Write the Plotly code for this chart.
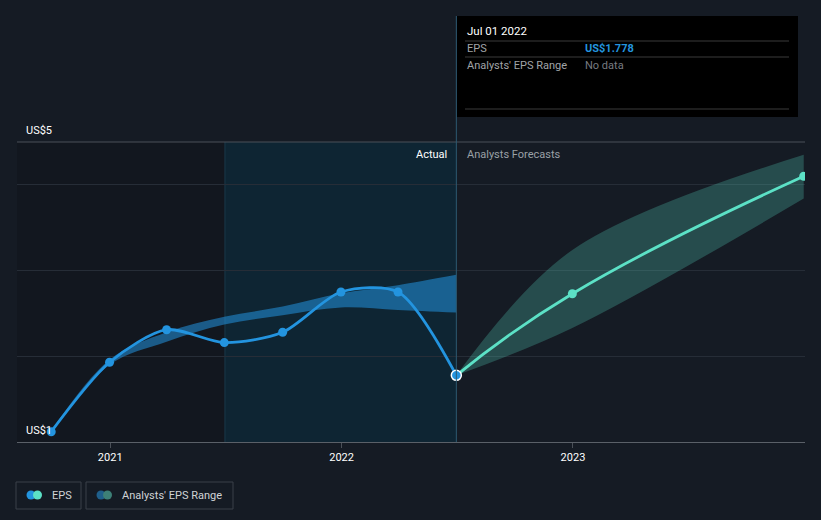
import plotly.graph_objects as go

# EPS history (US$)
eps_dates = ["2020-09-30", "2020-12-31", "2021-03-31", "2021-06-30",
             "2021-09-30", "2021-12-31", "2022-03-31", "2022-07-01"]
eps_values = [1.12, 1.93, 2.31, 2.16, 2.28, 2.75, 2.75, 1.778]

# analysts' range on past periods
past_rng_dates = ["2020-09-30", "2020-12-31", "2021-03-31", "2021-06-30",
                  "2021-09-30", "2021-12-31", "2022-03-31", "2022-07-01"]
past_rng_high = [1.13, 1.96, 2.28, 2.46, 2.58, 2.735, 2.83, 2.95]
past_rng_low = [1.11, 1.90, 2.17, 2.37, 2.48, 2.57, 2.54, 2.51]

# forecasts
fc_dates = ["2022-07-01", "2022-12-31", "2023-12-31"]
fc_values = [1.778, 2.73, 4.10]
fc_high = [1.778, 3.24, 4.35]
fc_low = [1.778, 2.33, 3.84]

BG = "#151b24"
BLUE = "#2394df"
TEAL = "#5ce1c6"

# plot area in pixels: x 17..805, y 142..442
def px(x):
    return (x - 17) / 788

def py(y):
    return (442 - y) / 300

fig = go.Figure()

# past range band
fig.add_trace(go.Scatter(x=past_rng_dates, y=past_rng_high, mode="lines",
                         line=dict(width=0, shape="spline"), hoverinfo="skip",
                         showlegend=False))
fig.add_trace(go.Scatter(x=past_rng_dates, y=past_rng_low, mode="lines",
                         line=dict(width=0, shape="spline"), fill="tonexty",
                         fillcolor="rgba(35,148,223,0.55)", hoverinfo="skip",
                         showlegend=False))

# forecast range band
fig.add_trace(go.Scatter(x=fc_dates, y=fc_high, mode="lines",
                         line=dict(width=0, shape="spline"), hoverinfo="skip",
                         showlegend=False))
fig.add_trace(go.Scatter(x=fc_dates, y=fc_low, mode="lines",
                         line=dict(width=0, shape="spline"), fill="tonexty",
                         fillcolor="rgba(92,225,198,0.25)", hoverinfo="skip",
                         showlegend=False))

# forecast line
fig.add_trace(go.Scatter(x=fc_dates, y=fc_values, mode="lines+markers",
                         line=dict(color=TEAL, width=2.8, shape="spline", smoothing=1.3),
                         marker=dict(size=9, color=TEAL), showlegend=False))

# eps line
fig.add_trace(go.Scatter(x=eps_dates, y=eps_values, mode="lines+markers",
                         line=dict(color=BLUE, width=2.8, shape="spline", smoothing=0.8),
                         marker=dict(size=9, color=BLUE), showlegend=False))

# highlighted last actual point
fig.add_trace(go.Scatter(x=eps_dates[-1:], y=eps_values[-1:], mode="markers",
                         marker=dict(size=10, color=BLUE, line=dict(color="white", width=1.5)),
                         showlegend=False))

shapes = [
    # darker area before last 12 months
    dict(type="rect", xref="x", yref="paper", x0="2020-08-07", x1="2021-07-01",
         y0=0, y1=1, fillcolor="#12171f", line_width=0, layer="below"),
    # last 12 months ("Actual") shading
    dict(type="rect", xref="x", yref="paper", x0="2021-07-01", x1="2022-07-01",
         y0=0, y1=1, fillcolor="#0e2533", line_width=0, layer="below"),
    dict(type="line", xref="x", yref="paper", x0="2021-07-01", x1="2021-07-01",
         y0=0, y1=1, line=dict(color="#1b3a4a", width=1), layer="below"),
    # top border
    dict(type="line", xref="paper", yref="paper", x0=0, x1=1, y0=1, y1=1,
         line=dict(color="#4a5058", width=1)),
    # crosshair
    dict(type="line", xref="x", yref="paper", x0="2022-07-01", x1="2022-07-01",
         y0=0, y1=py(16), line=dict(color="#2d5a72", width=1)),
    # tooltip box
    dict(type="rect", xref="paper", yref="paper", x0=px(457), x1=px(798),
         y0=py(117), y1=py(16), fillcolor="#000000", line_width=0),
    dict(type="line", xref="paper", yref="paper", x0=px(465), x1=px(789),
         y0=py(41), y1=py(41), line=dict(color="#3a3a3a", width=1)),
    dict(type="line", xref="paper", yref="paper", x0=px(465), x1=px(789),
         y0=py(57), y1=py(57), line=dict(color="#3a3a3a", width=1)),
    dict(type="line", xref="paper", yref="paper", x0=px(465), x1=px(789),
         y0=py(109), y1=py(109), line=dict(color="#3a3a3a", width=1)),
    # legend boxes
    dict(type="rect", xref="paper", yref="paper", x0=px(16), x1=px(81),
         y0=py(509), y1=py(482), line=dict(color="#3a4049", width=1)),
    dict(type="rect", xref="paper", yref="paper", x0=px(86), x1=px(233),
         y0=py(509), y1=py(482), line=dict(color="#3a4049", width=1)),
]

# legend icons
for cx, col in [(31, BLUE), (37.5, TEAL), (101, "#1f5f8b"), (107.5, "#3d8077")]:
    shapes.append(dict(type="circle", xref="paper", yref="paper",
                       x0=px(cx - 4.5), x1=px(cx + 4.5), y0=py(499.5), y1=py(490.5),
                       fillcolor=col, line_width=0))

def txt(x, y, s, color="#ffffff", size=11, xanchor="left", bold=False):
    return dict(xref="paper", yref="paper", x=px(x), y=py(y), text=f"<b>{s}</b>" if bold else s,
                showarrow=False, xanchor=xanchor, yanchor="middle",
                font=dict(color=color, size=size))

annotations = [
    txt(24, 130, "US$5"),
    txt(24, 430, "US$1"),
    txt(449, 154, "Actual"),
    txt(465, 154, "Analysts Forecasts", color="#9aa0a6"),
    txt(465, 31, "Jul 01 2022", size=11.5),
    txt(465, 49, "EPS", color="#a0a4a8"),
    txt(583, 49, "US$1.778", color=BLUE, bold=True),
    txt(465, 66, "Analysts' EPS Range", color="#a0a4a8"),
    txt(583, 66, "No data", color="#777b80"),
    txt(50, 495, "EPS", color="#d0d3d6"),
    txt(120, 495, "Analysts' EPS Range", color="#d0d3d6"),
]
annotations[2]["xanchor"] = "right"

fig.update_layout(
    width=821, height=520,
    margin=dict(l=17, r=16, t=142, b=78),
    paper_bgcolor=BG, plot_bgcolor=BG,
    font=dict(family="Roboto, sans-serif", color="#ffffff", size=11),
    showlegend=False,
    shapes=shapes,
    annotations=annotations,
    hovermode=False,
)

fig.update_xaxes(
    type="date",
    range=["2020-08-07", "2024-01-02"],
    tickvals=["2021-01-01", "2022-01-01", "2023-01-01"],
    ticktext=["2021", "2022", "2023"],
    ticks="outside", ticklen=5, tickcolor="#4a5058",
    showgrid=False, zeroline=False,
    showline=True, linecolor="#5a6068", linewidth=1,
    tickfont=dict(color="#ffffff", size=11),
)

fig.update_yaxes(
    range=[1, 4.5],
    tickvals=[2, 3, 4],
    showticklabels=False,
    showgrid=True, gridcolor="#262d37", gridwidth=1,
    zeroline=False, showline=False,
)

# drop the default page margin so the figure sits at the window's corner
fig.write_html("out.html", config={"displayModeBar": False},
               post_script="document.body.style.margin='0';"
                           "document.body.style.background='#151b24';")
